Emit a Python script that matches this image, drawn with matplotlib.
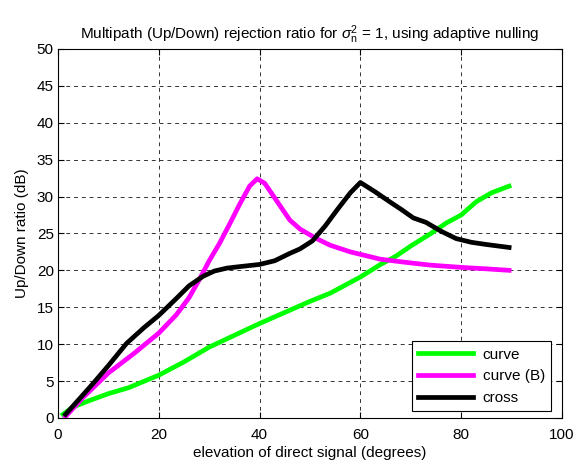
import matplotlib
matplotlib.use("Agg")
import matplotlib.pyplot as plt

plt.rcParams['font.family'] = ['Liberation Sans', 'DejaVu Sans']
plt.rcParams['mathtext.fontset'] = 'custom'
plt.rcParams['mathtext.rm'] = 'Liberation Sans'
plt.rcParams['mathtext.it'] = 'Liberation Sans:italic'

green_x = [1, 3, 6, 10, 14, 20, 25, 30, 35, 40, 45, 50, 54, 60, 64, 67, 70, 74, 77, 80, 83, 86, 89.5]
green_y = [0.5, 1.5, 2.3, 3.3, 4.1, 5.8, 7.6, 9.6, 11.2, 12.8, 14.3, 15.8, 16.9, 19.1, 20.8, 21.9, 23.3, 25.0, 26.4, 27.5, 29.3, 30.5, 31.4]

mag_x = [1.5, 5, 10, 15, 20, 23.5, 26, 28, 30, 32, 34, 36, 38, 39.5, 41, 43, 46, 48, 51, 54, 58, 64, 70, 74, 80, 85, 89.5]
mag_y = [0.2, 2.8, 6.1, 8.7, 11.5, 14, 16.3, 18.7, 21.3, 23.6, 26.2, 28.9, 31.4, 32.4, 31.8, 29.8, 26.8, 25.6, 24.4, 23.4, 22.5, 21.5, 21.0, 20.7, 20.4, 20.2, 20.0]

blk_x = [1.5, 4, 7, 10, 13.6, 17, 20, 23.5, 26, 28.8, 31, 33.5, 36, 40, 43, 46, 48, 50.5, 53, 55.5, 58, 60, 63, 66, 68, 70.5, 73, 76, 79, 82, 85, 89.5]
blk_y = [0.5, 2.4, 4.7, 7.1, 10.1, 12.2, 13.9, 16.2, 17.9, 19.2, 19.9, 20.3, 20.5, 20.8, 21.3, 22.3, 22.9, 24.0, 26.0, 28.3, 30.5, 31.9, 30.6, 29.2, 28.3, 27.1, 26.5, 25.3, 24.3, 23.8, 23.5, 23.1]

labels = ['curve', 'curve (B)', 'cross']
x_ticks = [0, 20, 40, 60, 80, 100]
y_ticks = [0, 5, 10, 15, 20, 25, 30, 35, 40, 45, 50]

fs = 11
fig = plt.figure(figsize=(5.83, 4.61), dpi=100)
ax = fig.add_axes([0.0995, 0.0933, 0.8645, 0.8007])

lw = 3.4
ax.plot(green_x, green_y, color='#00ff00', lw=lw, label=labels[0], solid_joinstyle='round')
ax.plot(mag_x, mag_y, color='#ff00ff', lw=lw, label=labels[1], solid_joinstyle='round')
ax.plot(blk_x, blk_y, color='black', lw=lw, label=labels[2], solid_joinstyle='round')

ax.set_xlim(0, 100)
ax.set_ylim(0, 50)
ax.set_xticks(x_ticks)
ax.set_yticks(y_ticks)
ax.tick_params(direction='in', top=True, right=True, labelsize=fs, length=4, width=0.8, pad=3)
ax.tick_params(axis='x', pad=7)
ax.grid(True, color='#333333', linestyle=(0, (4, 4)), linewidth=0.7)
for s in ax.spines.values():
    s.set_linewidth(0.8)

ax.set_xlabel('elevation of direct signal (degrees)', fontsize=fs, labelpad=3)
ax.set_ylabel('Up/Down ratio (dB)', fontsize=fs, labelpad=6)
ax.set_title(r'Multipath (Up/Down) rejection ratio for $\sigma_\mathrm{n}^2$ = 1, using adaptive nulling',
             fontsize=fs, pad=7)

leg = ax.legend(loc='lower right', bbox_to_anchor=(0.978, 0.019), fontsize=fs,
                fancybox=False, framealpha=1, edgecolor='black', handlelength=3.6,
                borderpad=0.4, labelspacing=0.5, handletextpad=0.6, borderaxespad=0)
leg.get_frame().set_linewidth(0.8)

fig.savefig('out.png', dpi=100)
